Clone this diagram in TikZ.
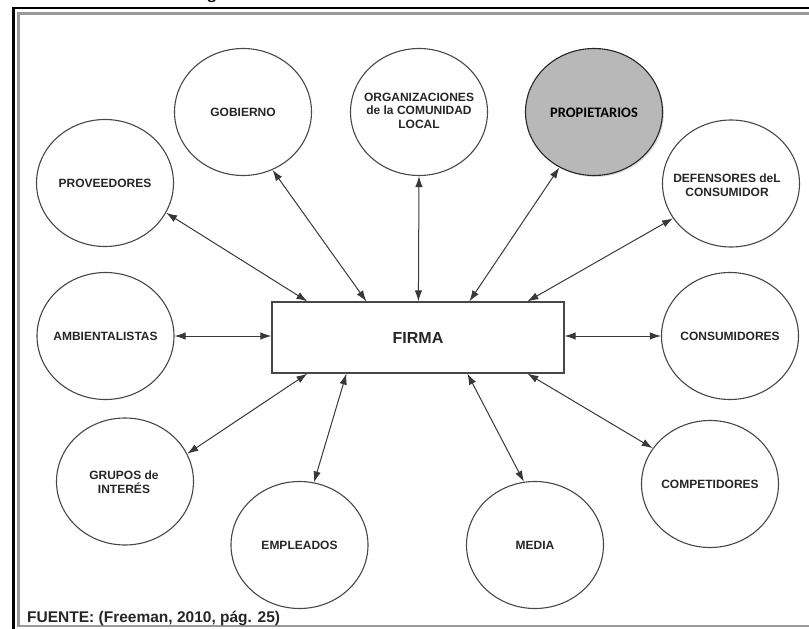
\documentclass[tikz,border=0pt]{standalone}
\usepackage{fontspec}
\setmainfont{Liberation Sans}
\newfontfamily\calib{Carlito}
\usetikzlibrary{arrows.meta,calc,shapes.geometric,shadows}
\begin{document}
\begin{tikzpicture}[x=1pt,y=-1pt,
  ell/.style={ellipse,draw=black!72,line width=1.1pt,minimum width=137pt,minimum height=127pt,inner sep=0pt},
  lbl/.style={font=\bfseries\fontsize{12}{13.6}\selectfont,align=center,inner sep=0pt,text=black!85},
  link/.style={draw=black!78,line width=1pt,{Latex[length=11pt,width=7.5pt]}-{Latex[length=11pt,width=7.5pt]}},
  blackframe/.style={draw=black,line width=2.6pt},
  greyframe/.style={draw=black!40,line width=2.2pt}]
\useasboundingbox (0,0) rectangle (809,629);
% frame
\draw[blackframe] (13.5,629) -- (13.5,8) -- (809,8);
\draw[greyframe] (809,13.5) -- (18.5,13.5) -- (18.5,626) -- (809,626);
% cut-off caption letter
\node[anchor=base,inner sep=0pt,font=\fontsize{20}{24}\selectfont] (capg) at (212,-1.5) {g};
% central box
\node[draw=black!72,line width=1.2pt,minimum width=292pt,minimum height=71pt,inner sep=0pt] (firma) at (418,337.5) {};
\node[font=\bfseries\fontsize{16}{18}\selectfont,text=black!85] (firmat) at (418,338) {FIRMA};
% stakeholders
\node[ell] (prov) at (105,183) {};
\node[lbl] (provt) at (prov) {PROVEEDORES};
\node[ell] (gob) at (243,112) {};
\node[lbl] (gobt) at (gob) {GOBIERNO};
\node[ell] (org) at (419,112) {};
\node[lbl] (orgt) at (419,110.5) {ORGANIZACIONES\\de la COMUNIDAD\\LOCAL};
\node[ell,fill=black!28,draw=black!85,drop shadow={shadow xshift=1.5pt,shadow yshift=-1.5pt,opacity=0.25}] (prop) at (594,112) {};
\node[inner sep=0pt,font=\calib\bfseries\fontsize{14.5}{16}\selectfont] (propt) at (594,113) {PROPIETARIOS};
\node[ell] (def) at (731,183.5) {};
\node[lbl] (deft) at (727,185) {DEFENSORES deL\\CONSUMIDOR};
\node[ell] (amb) at (105.5,336) {};
\node[lbl] (ambt) at (amb) {AMBIENTALISTAS};
\node[ell] (cons) at (730,336) {};
\node[lbl] (const) at (cons) {CONSUMIDORES};
\node[ell] (grp) at (125,481.5) {};
\node[lbl] (grpt) at (124,482) {GRUPOS de\\INTERÉS};
\node[ell] (emp) at (299.5,545) {};
\node[lbl] (empt) at (emp) {EMPLEADOS};
\node[ell] (med) at (535,545) {};
\node[lbl] (medt) at (med) {MEDIA};
\node[ell] (comp) at (710,484) {};
\node[lbl] (compt) at (comp) {COMPETIDORES};
% connectors
\draw[link] (prov.-26) -- ($(firma.north west)+(36,0)$);
\draw[link] (gob.-63) -- ($(firma.north west)+(95,0)$);
\draw[link] (org.south) -- ($(firma.north west)+(147,0)$);
\draw[link] (prop.-122.5) -- ($(firma.north west)+(198,0)$);
\draw[link] (def.-149.6) -- ($(firma.north west)+(256,0)$);
\draw[link] (amb.east) -- (amb.east -| firma.west);
\draw[link] (firma.east |- cons.west) -- (cons.west);
\draw[link] (grp.24.7) -- ($(firma.south west)+(36,0)$);
\draw[link] (emp.77.5) -- ($(firma.south west)+(75,0)$);
\draw[link] (med.100.8) -- ($(firma.south west)+(196,0)$);
\draw[link] (comp.148.9) -- ($(firma.south west)+(256,0)$);
% source
\node[anchor=base west,inner sep=0pt,font=\bfseries\fontsize{15.5}{17}\selectfont,text=black!85] (src) at (27,622) {FUENTE: (Freeman, 2010, pág. 25)};
\end{tikzpicture}
\end{document}
